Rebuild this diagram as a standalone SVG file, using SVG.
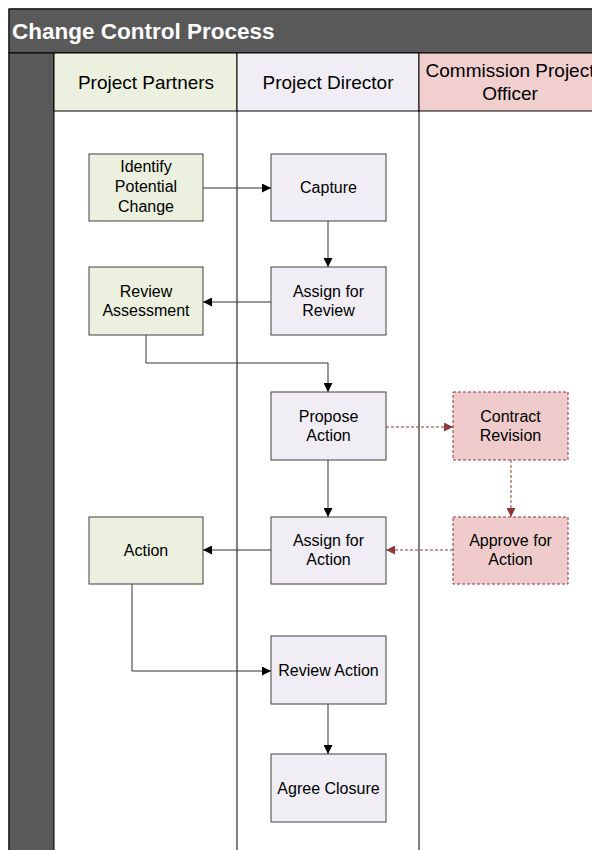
<svg xmlns="http://www.w3.org/2000/svg" width="592" height="850" viewBox="0 0 592 850">
<style>
  text { font-family: "Liberation Sans", Arial, sans-serif; fill: #000; }
  .title { font-size: 22.5px; font-weight: bold; fill: #fff; }
  .hdr { font-size: 19px; text-anchor: middle; }
  .lbl { font-size: 16px; text-anchor: middle; }
  .box { stroke: #404040; stroke-width: 1; }
  .g { fill: #EBF1DE; }
  .p { fill: #F0EEF4; }
  .r { fill: #EFCCCB; stroke: #8B3A3A; stroke-dasharray: 3,2; }
  .c { fill: none; stroke: #333; stroke-width: 1; }
  .d { fill: none; stroke: #8B3A3A; stroke-width: 1; stroke-dasharray: 3,2; }
  .lane { stroke: #000; stroke-width: 1; fill: none; }
</style>
<defs>
  <marker id="ah" viewBox="0 0 10 10" refX="10" refY="5" markerWidth="9" markerHeight="9" markerUnits="userSpaceOnUse" orient="auto">
    <path d="M0,0 L10,5 L0,10 z" fill="#000"/>
  </marker>
  <marker id="ahr" viewBox="0 0 10 10" refX="10" refY="5" markerWidth="9" markerHeight="9" markerUnits="userSpaceOnUse" orient="auto">
    <path d="M0,0 L10,5 L0,10 z" fill="#8B3A3A"/>
  </marker>
</defs>
<rect width="592" height="850" fill="#fff"/>
<g id="pool">
  <rect x="9" y="9" width="600" height="860" fill="#fff" stroke="#000"/>
  <rect x="9" y="9" width="600" height="44" fill="#595959" stroke="#000"/>
  <text class="title" x="12" y="39">Change Control Process</text>
  <rect x="9" y="53" width="45" height="810" fill="#595959" stroke="#000"/>
</g>
<g id="lane-partners">
  <rect x="54" y="53" width="183" height="58" fill="#EBF1DE" stroke="#000"/>
  <text class="hdr" x="146" y="89">Project Partners</text>
</g>
<g id="lane-director">
  <rect x="237" y="53" width="182" height="58" fill="#F0EEF4" stroke="#000"/>
  <text class="hdr" x="328" y="89">Project Director</text>
</g>
<g id="lane-officer">
  <rect x="419" y="53" width="182" height="58" fill="#F0CFCE" stroke="#000"/>
  <text class="hdr" x="510" y="77">Commission Project</text>
  <text class="hdr" x="510" y="100">Officer</text>
</g>
<g id="lane-lines">
  <line class="lane" x1="237" y1="111" x2="237" y2="850"/>
  <line class="lane" x1="419" y1="111" x2="419" y2="850"/>
</g>
<g id="connectors">
  <line class="c" x1="203" y1="188" x2="271" y2="188" marker-end="url(#ah)"/>
  <line class="c" x1="328" y1="221" x2="328" y2="267" marker-end="url(#ah)"/>
  <line class="c" x1="271" y1="302" x2="203" y2="302" marker-end="url(#ah)"/>
  <polyline class="c" points="146,335 146,363 328,363 328,392" marker-end="url(#ah)"/>
  <line class="d" x1="386" y1="427" x2="453" y2="427" marker-end="url(#ahr)"/>
  <line class="d" x1="511" y1="460" x2="511" y2="517" marker-end="url(#ahr)"/>
  <line class="c" x1="328" y1="460" x2="328" y2="517" marker-end="url(#ah)"/>
  <line class="d" x1="453" y1="550" x2="386" y2="550" marker-end="url(#ahr)"/>
  <line class="c" x1="271" y1="550" x2="203" y2="550" marker-end="url(#ah)"/>
  <polyline class="c" points="132,584 132,671 271,671" marker-end="url(#ah)"/>
  <line class="c" x1="328" y1="704" x2="328" y2="754" marker-end="url(#ah)"/>
</g>
<g id="identify">
  <rect class="box g" x="89" y="154" width="114" height="67"/>
  <text class="lbl" x="146" y="172">Identify</text>
  <text class="lbl" x="146" y="192">Potential</text>
  <text class="lbl" x="146" y="212">Change</text>
</g>
<g id="capture">
  <rect class="box p" x="271" y="154" width="115" height="67"/>
  <text class="lbl" x="328.5" y="193">Capture</text>
</g>
<g id="review-assessment">
  <rect class="box g" x="89" y="267" width="114" height="68"/>
  <text class="lbl" x="146" y="297">Review</text>
  <text class="lbl" x="146" y="316">Assessment</text>
</g>
<g id="assign-review">
  <rect class="box p" x="271" y="267" width="115" height="68"/>
  <text class="lbl" x="328.5" y="297">Assign for</text>
  <text class="lbl" x="328.5" y="316">Review</text>
</g>
<g id="propose-action">
  <rect class="box p" x="271" y="392" width="115" height="68"/>
  <text class="lbl" x="328.5" y="422">Propose</text>
  <text class="lbl" x="328.5" y="441">Action</text>
</g>
<g id="contract-revision">
  <rect class="box r" x="453" y="392" width="115" height="68"/>
  <text class="lbl" x="510.5" y="422">Contract</text>
  <text class="lbl" x="510.5" y="441">Revision</text>
</g>
<g id="action">
  <rect class="box g" x="89" y="517" width="114" height="67"/>
  <text class="lbl" x="146" y="556">Action</text>
</g>
<g id="assign-action">
  <rect class="box p" x="271" y="517" width="115" height="67"/>
  <text class="lbl" x="328.5" y="546">Assign for</text>
  <text class="lbl" x="328.5" y="565">Action</text>
</g>
<g id="approve-action">
  <rect class="box r" x="453" y="517" width="115" height="67"/>
  <text class="lbl" x="510.5" y="546">Approve for</text>
  <text class="lbl" x="510.5" y="565">Action</text>
</g>
<g id="review-action">
  <rect class="box p" x="271" y="636" width="115" height="68"/>
  <text class="lbl" x="328.5" y="676">Review Action</text>
</g>
<g id="agree-closure">
  <rect class="box p" x="271" y="754" width="115" height="68"/>
  <text class="lbl" x="328.5" y="794">Agree Closure</text>
</g>
</svg>
